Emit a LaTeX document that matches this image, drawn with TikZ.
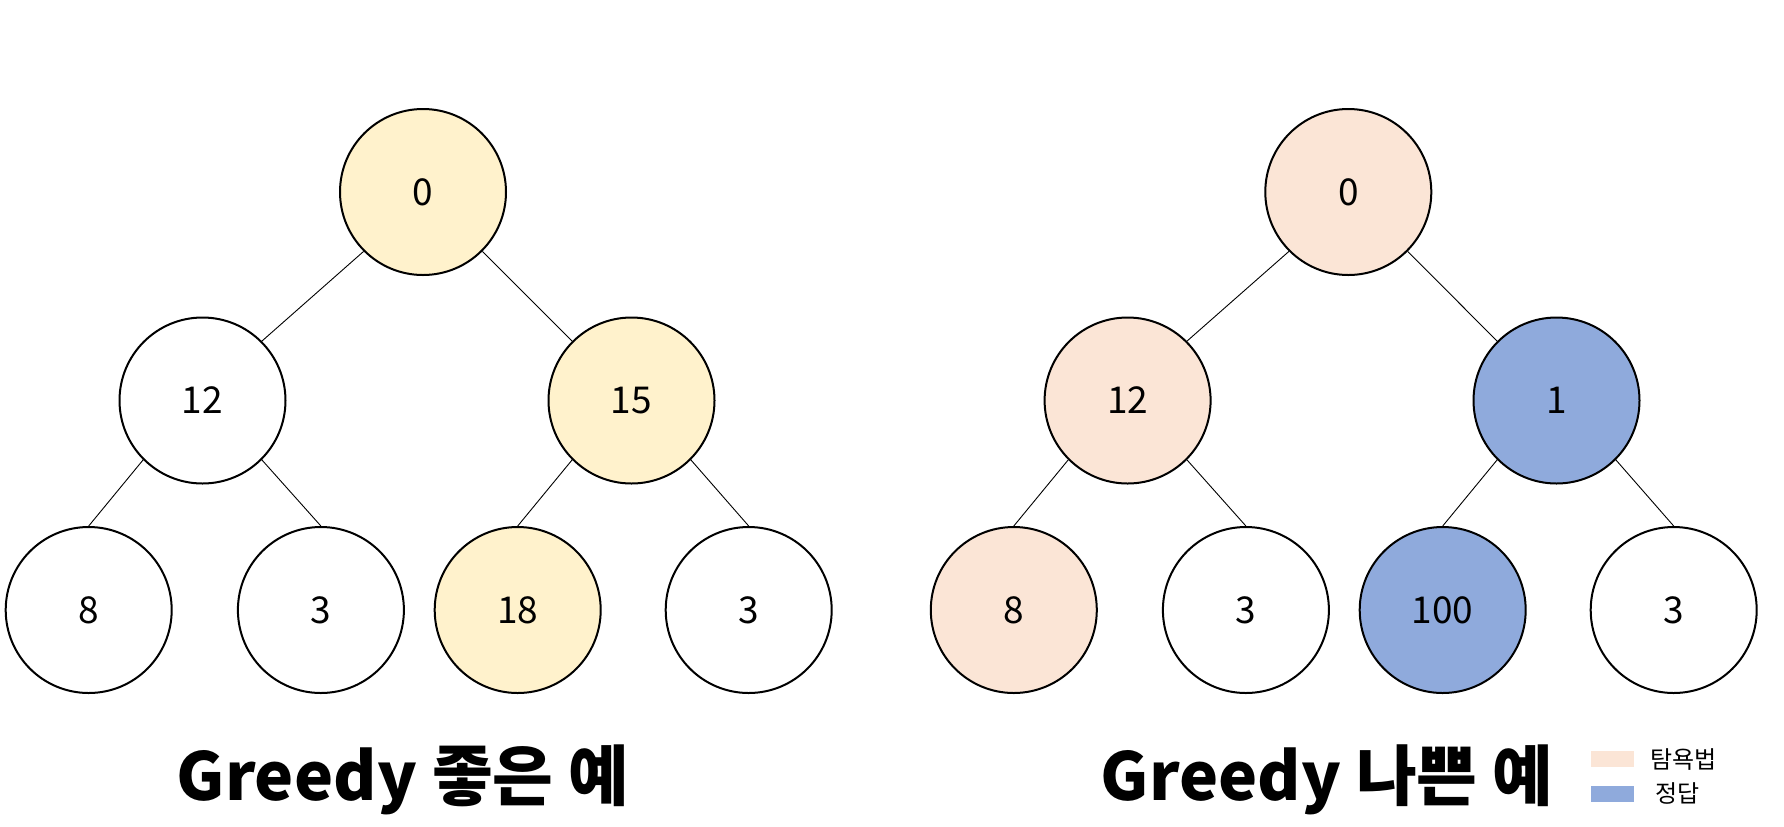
\documentclass[tikz,border=0pt]{standalone}
\usepackage{fontspec}
\usepackage{xcolor}
\usepackage{tikz}
\usetikzlibrary{positioning}
\setmainfont{Noto Sans CJK KR}
\definecolor{greedyyellow}{RGB}{255,242,204}
\definecolor{greedypeach}{RGB}{251,229,214}
\definecolor{answerblue}{RGB}{143,170,220}

\begin{document}
\begin{tikzpicture}[
    x=0.5pt, y=-0.5pt,
    tnode/.style={circle, draw, line width=1pt, minimum size=83pt, inner sep=0pt, font=\fontsize{18.5}{22}\selectfont},
    edge/.style={line width=0.45pt},
    title/.style={font=\fontsize{33}{40}\selectfont\bfseries},
    legbox/.style={rectangle, minimum width=21.5pt, minimum height=8pt, inner sep=0pt},
    legtext/.style={font=\fontsize{12}{14}\selectfont, anchor=west, inner sep=0pt},
]
\useasboundingbox (0,0) rectangle (1784,826);

% good example
\node[tnode, fill=greedyyellow] (groot) at (423,192) {0};
\node[tnode] (gl) at (202.5,400.5) {12};
\node[tnode, fill=greedyyellow] (gr) at (631.5,400.5) {15};
\node[tnode] (gll) at (88.7,610) {8};
\node[tnode] (glr) at (320.9,610) {3};
\node[tnode, fill=greedyyellow] (grl) at (517.7,610) {18};
\node[tnode] (grr) at (748.7,610) {3};

\draw[edge] (groot.south west) -- (gl.north east);
\draw[edge] (groot.south east) -- (gr.north west);
\draw[edge] (gl.south west) -- (gll.north);
\draw[edge] (gl.south east) -- (glr.north);
\draw[edge] (gr.south west) -- (grl.north);
\draw[edge] (gr.south east) -- (grr.north);

\node[title] (gtitle) at (403,780) {Greedy 좋은 예};

% bad example
\node[tnode, fill=greedypeach] (broot) at (1348.3,192) {0};
\node[tnode, fill=greedypeach] (bl) at (1127.6,400.5) {12};
\node[tnode, fill=answerblue] (br) at (1556.5,400.5) {1};
\node[tnode, fill=greedypeach] (bll) at (1013.8,610) {8};
\node[tnode] (blr) at (1245.9,610) {3};
\node[tnode, fill=answerblue] (brl) at (1442.7,610) {100};
\node[tnode] (brr) at (1673.7,610) {3};

\draw[edge] (broot.south west) -- (bl.north east);
\draw[edge] (broot.south east) -- (br.north west);
\draw[edge] (bl.south west) -- (bll.north);
\draw[edge] (bl.south east) -- (blr.north);
\draw[edge] (br.south west) -- (brl.north);
\draw[edge] (br.south east) -- (brr.north);

\node[title] (btitle) at (1327,780) {Greedy 나쁜 예};

% legend
\node[legbox, fill=greedypeach] (leggreedy) at (1612.5,759) {};
\node[legtext, right=8pt of leggreedy] {탐욕법};
\node[legbox, fill=answerblue] (leganswer) at (1612.5,793.5) {};
\node[legtext, right=10.5pt of leganswer] {정답};
\end{tikzpicture}
\end{document}
